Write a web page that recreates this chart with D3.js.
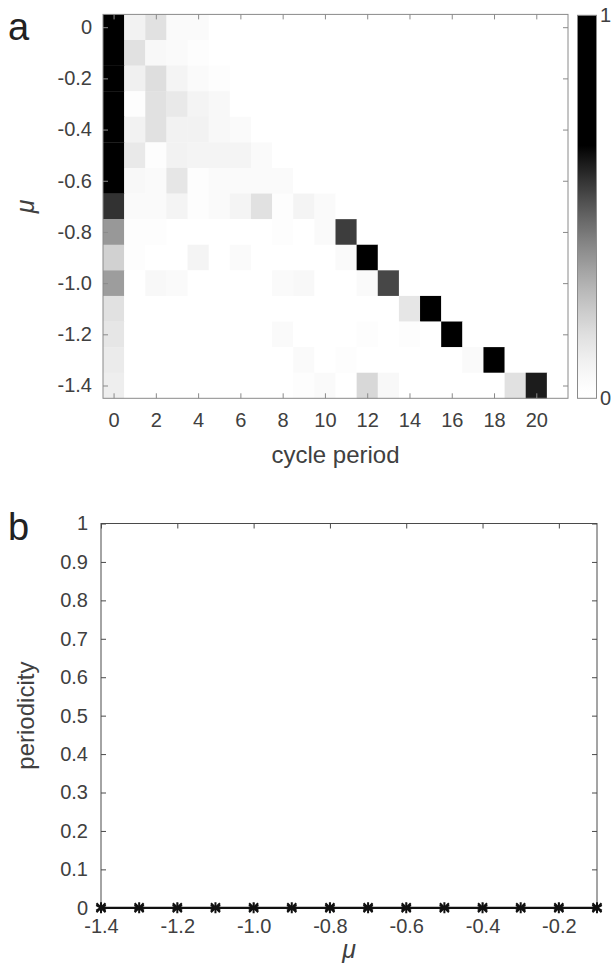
<!DOCTYPE html>
<html>
<head>
<meta charset="utf-8">
<script src="https://cdn.jsdelivr.net/npm/d3@7"></script>
<style>
  body { margin: 0; background: #fff; }
  text { font-family: "Liberation Sans", Arial, sans-serif; }
</style>
</head>
<body>
<div id="container"></div>
<script>
/* CONSTANTS AND GLOBALS */
const width = 612;
const height = 973;

/* DATA */
// panel a: rows are mu, columns are cycle period 0..21
const muRows = [0, -0.1, -0.2, -0.3, -0.4, -0.5, -0.6, -0.7, -0.8, -0.9, -1.0, -1.1, -1.2, -1.3, -1.4];
const periods = d3.range(0, 22);
const share = [
  [0.95, 0.09, 0.16, 0.05, 0.05, 0, 0, 0, 0, 0, 0, 0, 0, 0, 0, 0, 0, 0, 0, 0, 0, 0],
  [0.95, 0.16, 0.06, 0.05, 0.03, 0, 0, 0, 0, 0, 0, 0, 0, 0, 0, 0, 0, 0, 0, 0, 0, 0],
  [0.95, 0.10, 0.17, 0.08, 0.05, 0.03, 0, 0, 0, 0, 0, 0, 0, 0, 0, 0, 0, 0, 0, 0, 0, 0],
  [0.95, 0.03, 0.16, 0.13, 0.08, 0.06, 0, 0, 0, 0, 0, 0, 0, 0, 0, 0, 0, 0, 0, 0, 0, 0],
  [0.95, 0.09, 0.16, 0.09, 0.09, 0.06, 0.05, 0, 0, 0, 0, 0, 0, 0, 0, 0, 0, 0, 0, 0, 0, 0],
  [0.95, 0.13, 0.03, 0.09, 0.08, 0.08, 0.08, 0.05, 0, 0, 0, 0, 0, 0, 0, 0, 0, 0, 0, 0, 0, 0],
  [0.95, 0.06, 0.05, 0.14, 0.03, 0.05, 0.05, 0.05, 0.05, 0, 0, 0, 0, 0, 0, 0, 0, 0, 0, 0, 0, 0],
  [0.57, 0.05, 0.05, 0.08, 0.03, 0.05, 0.08, 0.16, 0.03, 0.08, 0.05, 0, 0, 0, 0, 0, 0, 0, 0, 0, 0, 0],
  [0.36, 0.03, 0.03, 0, 0, 0, 0, 0, 0.03, 0, 0.05, 0.55, 0, 0, 0, 0, 0, 0, 0, 0, 0, 0],
  [0.21, 0.03, 0, 0, 0.08, 0, 0.05, 0, 0, 0, 0, 0.05, 0.95, 0, 0, 0, 0, 0, 0, 0, 0, 0],
  [0.35, 0, 0.06, 0.05, 0, 0, 0, 0, 0.05, 0.06, 0, 0, 0.05, 0.53, 0, 0, 0, 0, 0, 0, 0, 0],
  [0.16, 0, 0, 0, 0, 0, 0, 0, 0, 0, 0, 0, 0, 0, 0.14, 0.95, 0, 0, 0, 0, 0, 0],
  [0.14, 0, 0, 0, 0, 0, 0, 0, 0.05, 0, 0, 0, 0.03, 0, 0.03, 0, 0.95, 0, 0, 0, 0, 0],
  [0.12, 0, 0, 0, 0, 0, 0, 0, 0, 0.05, 0, 0.03, 0, 0, 0, 0, 0, 0.05, 0.95, 0, 0, 0],
  [0.11, 0, 0, 0, 0, 0, 0, 0, 0, 0.03, 0.05, 0, 0.19, 0.06, 0, 0, 0, 0, 0, 0.16, 0.61, 0]
];
const aXTicks = d3.range(0, 21, 2);
const aYTicks = [0, -0.2, -0.4, -0.6, -0.8, -1.0, -1.2, -1.4];

// panel b
const muB = [-1.4, -1.3, -1.2, -1.1, -1.0, -0.9, -0.8, -0.7, -0.6, -0.5, -0.4, -0.3, -0.2, -0.1];
const periodicity = [0, 0, 0, 0, 0, 0, 0, 0, 0, 0, 0, 0, 0, 0];
const bXTicks = [-1.4, -1.2, -1.0, -0.8, -0.6, -0.4, -0.2];
const bYTicks = d3.range(0, 11).map(d => d / 10);

const cells = [];
muRows.forEach((m, i) => periods.forEach((p, j) => cells.push({ mu: m, period: p, value: share[i][j] })));

/* HTML ELEMENTS */
const svg = d3.select("#container")
  .append("svg")
  .attr("width", width)
  .attr("height", height);

const fmt = d => d === 0 ? "0" : d3.format(".1f")(d).replace("−", "-");
const tickCol = "#404040";
const tickFont = "20px";
const labelFont = "24px";

/* ===== PANEL A ===== */
const xA = d3.scaleLinear().domain([-0.5, 21.5]).range([103, 568]);
const yA = d3.scaleLinear().domain([0.05, -1.45]).range([14.4, 398.3]);
// grey map: black above ~0.66, curved toward white
const colorA = d3.scalePow().exponent(1.5).domain([0, 0.66]).range(["#ffffff", "#000000"]).clamp(true);

svg.append("g")
  .selectAll("rect")
  .data(cells)
  .join("rect")
  .attr("x", d => xA(d.period - 0.5))
  .attr("y", d => yA(d.mu + 0.05))
  .attr("width", d => xA(d.period + 0.5) - xA(d.period - 0.5) + 0.3)
  .attr("height", d => yA(d.mu - 0.05) - yA(d.mu + 0.05) + 0.3)
  .attr("fill", d => colorA(d.value));

const axA = "#8a8a8a";
// box
svg.append("rect")
  .attr("x", xA.range()[0]).attr("y", yA.range()[0])
  .attr("width", xA.range()[1] - xA.range()[0])
  .attr("height", yA.range()[1] - yA.range()[0])
  .attr("fill", "none").attr("stroke", axA).attr("stroke-width", 1);

// AXES
const aBottom = svg.append("g")
  .attr("transform", `translate(0,${yA.range()[1]})`)
  .call(d3.axisBottom(xA).tickValues(aXTicks).tickSize(-5).tickPadding(15).tickFormat(d3.format("d")));
const aTop = svg.append("g")
  .attr("transform", `translate(0,${yA.range()[0]})`)
  .call(d3.axisTop(xA).tickValues(aXTicks).tickSize(-5).tickFormat(""));
const aLeft = svg.append("g")
  .attr("transform", `translate(${xA.range()[0]},0)`)
  .call(d3.axisLeft(yA).tickValues(aYTicks).tickSize(-5).tickPadding(11).tickFormat(fmt));
const aRight = svg.append("g")
  .attr("transform", `translate(${xA.range()[1]},0)`)
  .call(d3.axisRight(yA).tickValues(aYTicks).tickSize(-5).tickFormat(""));
[aBottom, aTop, aLeft, aRight].forEach(g => {
  g.select(".domain").remove();
  g.selectAll("line").attr("stroke", axA);
  g.selectAll("text").attr("fill", tickCol).style("font-size", tickFont);
});

// colorbar
const cbX = 577.5, cbW = 19;
const defs = svg.append("defs");
const grad = defs.append("linearGradient").attr("id", "cbgrad")
  .attr("x1", 0).attr("y1", 1).attr("x2", 0).attr("y2", 0);
d3.range(0, 1.0001, 0.02).forEach(t => {
  grad.append("stop").attr("offset", t).attr("stop-color", colorA(t));
});
const cbScale = d3.scaleLinear().domain([0, 1]).range([398.3, 15.3]);
svg.append("rect")
  .attr("x", cbX).attr("y", cbScale(1))
  .attr("width", cbW).attr("height", cbScale(0) - cbScale(1))
  .attr("fill", "url(#cbgrad)")
  .attr("stroke", axA).attr("stroke-width", 1);
svg.selectAll(".cblab")
  .data([0, 1])
  .join("text")
  .attr("class", "cblab")
  .attr("x", 600)
  .attr("y", d => cbScale(d) + 7)
  .attr("fill", tickCol)
  .style("font-size", tickFont)
  .text(d => d);

// labels
svg.append("text")
  .attr("x", xA(10.5)).attr("y", 463)
  .attr("text-anchor", "middle").attr("fill", tickCol)
  .style("font-size", labelFont)
  .text("cycle period");
svg.append("text")
  .attr("transform", `translate(34,${(yA.range()[0] + yA.range()[1]) / 2}) rotate(-90)`)
  .attr("text-anchor", "middle").attr("fill", tickCol)
  .style("font-size", "25px").style("font-style", "italic")
  .text("μ");
svg.append("text")
  .attr("x", 8).attr("y", 40)
  .attr("fill", "#222").style("font-size", "38px")
  .text("a");

/* ===== PANEL B ===== */
const xB = d3.scaleLinear().domain([-1.4, -0.1]).range([101, 597]);
const yB = d3.scaleLinear().domain([0, 1]).range([907.8, 523.5]);
const axB = "#4a4a4a";

svg.append("rect")
  .attr("x", xB.range()[0]).attr("y", yB.range()[1])
  .attr("width", xB.range()[1] - xB.range()[0])
  .attr("height", yB.range()[0] - yB.range()[1])
  .attr("fill", "none").attr("stroke", axB).attr("stroke-width", 1);

const bBottom = svg.append("g")
  .attr("transform", `translate(0,${yB.range()[0]})`)
  .call(d3.axisBottom(xB).tickValues(bXTicks).tickSize(-5).tickPadding(11).tickFormat(fmt));
const bTop = svg.append("g")
  .attr("transform", `translate(0,${yB.range()[1]})`)
  .call(d3.axisTop(xB).tickValues(bXTicks).tickSize(-5).tickFormat(""));
const bLeft = svg.append("g")
  .attr("transform", `translate(${xB.range()[0]},0)`)
  .call(d3.axisLeft(yB).tickValues(bYTicks).tickSize(-5).tickPadding(13).tickFormat(d => d === 0 ? "0" : d === 1 ? "1" : d3.format(".1f")(d)));
const bRight = svg.append("g")
  .attr("transform", `translate(${xB.range()[1]},0)`)
  .call(d3.axisRight(yB).tickValues(bYTicks).tickSize(-5).tickFormat(""));
[bBottom, bTop, bLeft, bRight].forEach(g => {
  g.select(".domain").remove();
  g.selectAll("line").attr("stroke", axB);
  g.selectAll("text").attr("fill", tickCol).style("font-size", tickFont);
});

const ptsB = muB.map((m, i) => ({ mu: m, p: periodicity[i] }));
svg.append("path")
  .datum(ptsB)
  .attr("d", d3.line().x(d => xB(d.mu)).y(d => yB(d.p)))
  .attr("fill", "none").attr("stroke", "#111").attr("stroke-width", 2.2);
const star = d3.symbol().type(d3.symbolAsterisk).size(85);
const starX = d3.symbol().type(d3.symbolTimes).size(55);
svg.selectAll(".star")
  .data(ptsB)
  .join("g")
  .attr("class", "star")
  .attr("transform", d => `translate(${xB(d.mu)},${yB(d.p)})`)
  .each(function () {
    d3.select(this).append("path").attr("d", star()).attr("fill", "none").attr("stroke", "#111").attr("stroke-width", 2);
    d3.select(this).append("path").attr("d", starX()).attr("fill", "none").attr("stroke", "#111").attr("stroke-width", 2);
  });

svg.append("text")
  .attr("transform", `translate(34,${(yB.range()[0] + yB.range()[1]) / 2}) rotate(-90)`)
  .attr("text-anchor", "middle").attr("fill", tickCol)
  .style("font-size", labelFont)
  .text("periodicity");
svg.append("text")
  .attr("x", (xB.range()[0] + xB.range()[1]) / 2).attr("y", 958)
  .attr("text-anchor", "middle").attr("fill", tickCol)
  .style("font-size", "25px").style("font-style", "italic")
  .text("μ");
svg.append("text")
  .attr("x", 8).attr("y", 540)
  .attr("fill", "#222").style("font-size", "38px")
  .text("b");
</script>
</body>
</html>
